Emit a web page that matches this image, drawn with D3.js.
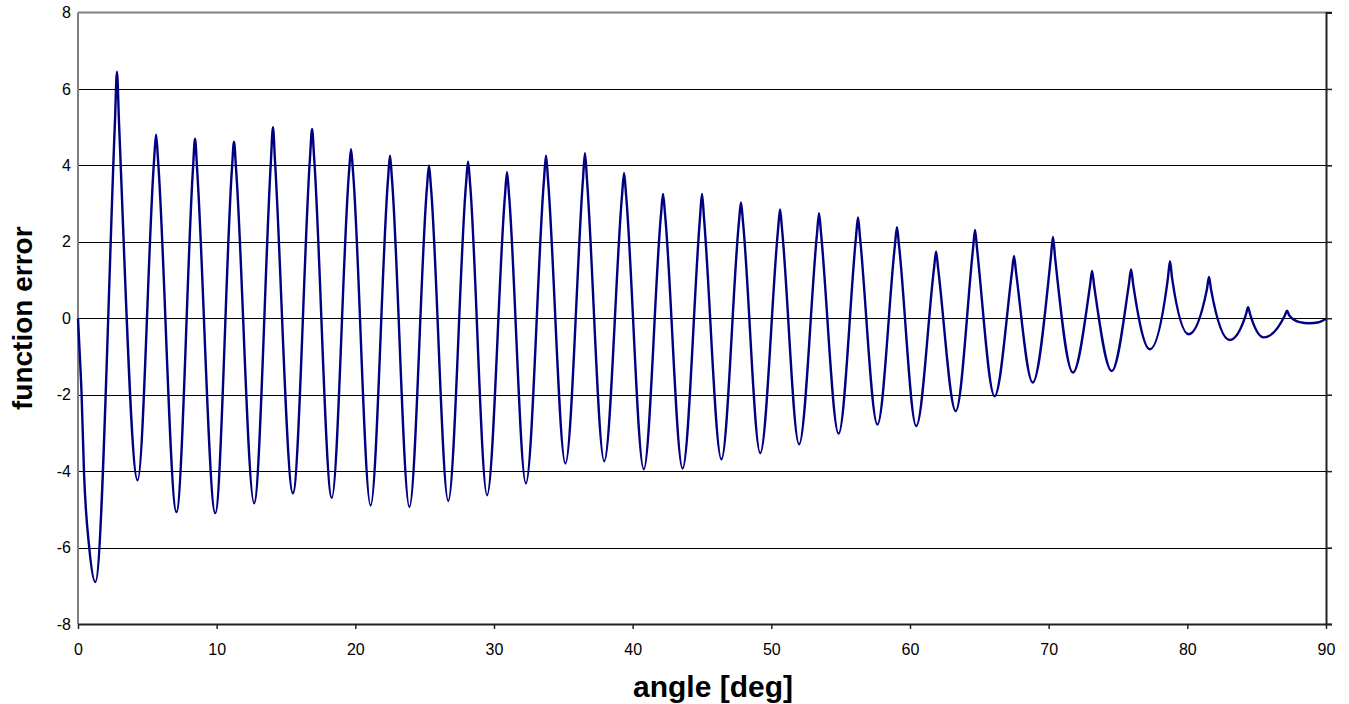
<!DOCTYPE html>
<html>
<head>
<meta charset="utf-8">
<script src="https://cdn.jsdelivr.net/npm/d3@7"></script>
<style>
  html, body { margin: 0; padding: 0; background: #fff; }
  #chart { width: 1349px; height: 704px; }
  .tick text { font-family: "Liberation Sans", Arial, sans-serif; font-size: 16px; fill: #000; }
  .axis-title { font-family: "Liberation Sans", Arial, sans-serif; font-size: 28px; font-weight: bold; fill: #000; }
</style>
</head>
<body>
<div id="chart"></div>
<script>
// Ticks
var xTicks = [0, 10, 20, 30, 40, 50, 60, 70, 80, 90];
var yTicks = [-8, -6, -4, -2, 0, 2, 4, 6, 8];

// Start of the curve, before the first trough
var headX = [0, 0.08, 0.26, 0.43, 0.81];
var headY = [0, -0.6, -2.0, -4.0, -6.0];

// Troughs (each one comes before the matching peak)
var troughX = [1.25, 4.3, 7.1, 9.9, 12.7, 15.5, 18.3, 21.1, 23.9, 26.7, 29.5, 32.3, 35.15, 37.95, 40.8, 43.6,
  46.4, 49.2, 52.0, 54.85, 57.65, 60.45, 63.3, 66.1, 68.85, 71.75, 74.55, 77.3, 80.1, 83.05, 85.5];
var troughY = [-6.9, -4.24, -5.07, -5.1, -4.84, -4.58, -4.7, -4.9, -4.94, -4.78, -4.63, -4.32, -3.8, -3.74, -3.95, -3.93,
  -3.69, -3.53, -3.3, -3.02, -2.78, -2.82, -2.43, -2.04, -1.68, -1.42, -1.38, -0.81, -0.42, -0.57, -0.5];

// Peaks, with the level at the foot of each narrow spike
var peakX = [2.81, 5.63, 8.44, 11.25, 14.06, 16.88, 19.69, 22.5, 25.31, 28.13, 30.94, 33.75, 36.56, 39.38, 42.19, 45.0,
  47.81, 50.63, 53.44, 56.25, 59.06, 61.88, 64.69, 67.5, 70.31, 73.13, 75.94, 78.75, 81.56, 84.38, 87.19];
var peakY = [6.45, 4.8, 4.7, 4.62, 5.0, 4.95, 4.42, 4.25, 4.0, 4.1, 3.82, 4.25, 4.32, 3.8, 3.25, 3.25,
  3.03, 2.85, 2.75, 2.64, 2.38, 1.74, 2.31, 1.63, 2.13, 1.24, 1.28, 1.49, 1.08, 0.29, 0.2];
var shoulderY = [5.1, 4.1, 3.9, 3.9, 4.1, 4.2, 3.8, 3.6, 3.4, 3.5, 3.2, 3.6, 3.6, 3.2, 2.7, 2.6,
  2.5, 2.3, 2.2, 2.1, 1.9, 1.3, 1.8, 1.2, 1.6, 0.85, 0.9, 1.05, 0.75, 0.1, 0.08];
var shoulderDx = 0.15;

// Flat tail up to 90 deg
var tailX = [88.1, 88.8, 89.4, 90];
var tailY = [-0.1, -0.13, -0.11, -0.02];

function buildSeries() {
  var pts = [];
  headX.forEach(function(x, i) { pts.push([x, headY[i]]); });
  troughX.forEach(function(x, i) {
    pts.push([x, troughY[i]]);
    pts.push([peakX[i] - shoulderDx, shoulderY[i]]);
    pts.push([peakX[i], peakY[i]]);
    pts.push([peakX[i] + shoulderDx, shoulderY[i]]);
  });
  tailX.forEach(function(x, i) { pts.push([x, tailY[i]]); });
  return pts;
}

// plain hyphen for negatives, like the original
function tickLabel(d) { return String(d); }

function render() {
  var left = 78, right = 1326, top = 12.5, bottom = 624;

  var svg = d3.select('#chart').append('svg')
    .attr('width', 1349)
    .attr('height', 704)
    .attr('xmlns', 'http://www.w3.org/2000/svg');

  var x = d3.scaleLinear().domain([0, 90]).range([left, right]);
  var y = d3.scaleLinear().domain([-8, 8]).range([bottom, top]);

  // Horizontal gridlines
  svg.append('g').selectAll('line')
    .data(yTicks.filter(function(d) { return d !== -8 && d !== 8; }))
    .enter().append('line')
    .attr('x1', left).attr('x2', right + 6)
    .attr('y1', function(d) { return Math.round(y(d)) + 0.5; })
    .attr('y2', function(d) { return Math.round(y(d)) + 0.5; })
    .attr('stroke', '#000').attr('stroke-width', 1);

  // Plot border: grey on top and left
  svg.append('line')
    .attr('x1', left).attr('x2', right + 6).attr('y1', top).attr('y2', top)
    .attr('stroke', '#808080').attr('stroke-width', 2);
  svg.append('line')
    .attr('x1', left).attr('x2', left).attr('y1', top).attr('y2', bottom)
    .attr('stroke', '#808080').attr('stroke-width', 2);

  // Left tick labels only
  var yAxis = svg.append('g')
    .attr('transform', 'translate(' + left + ',0)')
    .call(d3.axisLeft(y).tickValues(yTicks).tickFormat(tickLabel).tickSize(0).tickPadding(7));
  yAxis.select('.domain').remove();

  // Right-hand value axis with outward ticks
  var yAxisR = svg.append('g')
    .attr('transform', 'translate(' + right + ',0)')
    .call(d3.axisRight(y).tickValues(yTicks).tickSize(6).tickFormat(''));
  yAxisR.select('.domain').attr('stroke', '#222').attr('stroke-width', 2);
  yAxisR.selectAll('.tick line').attr('stroke', '#222').attr('stroke-width', 1.5);

  // Bottom category axis
  var xAxis = svg.append('g')
    .attr('transform', 'translate(0,' + bottom + ')')
    .call(d3.axisBottom(x).tickValues(xTicks).tickFormat(tickLabel).tickSize(5).tickPadding(15).tickSizeOuter(0));
  xAxis.select('.domain').attr('stroke', '#222').attr('stroke-width', 2);
  xAxis.selectAll('.tick line').attr('stroke', '#222').attr('stroke-width', 1.5);

  // Error curve
  var line = d3.line()
    .x(function(d) { return x(d[0]); })
    .y(function(d) { return y(d[1]); })
    .curve(d3.curveMonotoneX);

  svg.append('path')
    .datum(buildSeries())
    .attr('d', line)
    .attr('fill', 'none')
    .attr('stroke', '#000080')
    .attr('stroke-width', 2.4)
    .attr('stroke-linejoin', 'round');

  // Axis titles
  svg.append('text')
    .attr('class', 'axis-title')
    .attr('x', 713)
    .attr('y', 697)
    .attr('text-anchor', 'middle')
    .style('font-size', '30px')
    .text('angle [deg]');

  svg.append('text')
    .attr('class', 'axis-title')
    .attr('transform', 'translate(32,' + (top + bottom) / 2 + ') rotate(-90)')
    .attr('text-anchor', 'middle')
    .text('function error');
}

render();
</script>
</body>
</html>
